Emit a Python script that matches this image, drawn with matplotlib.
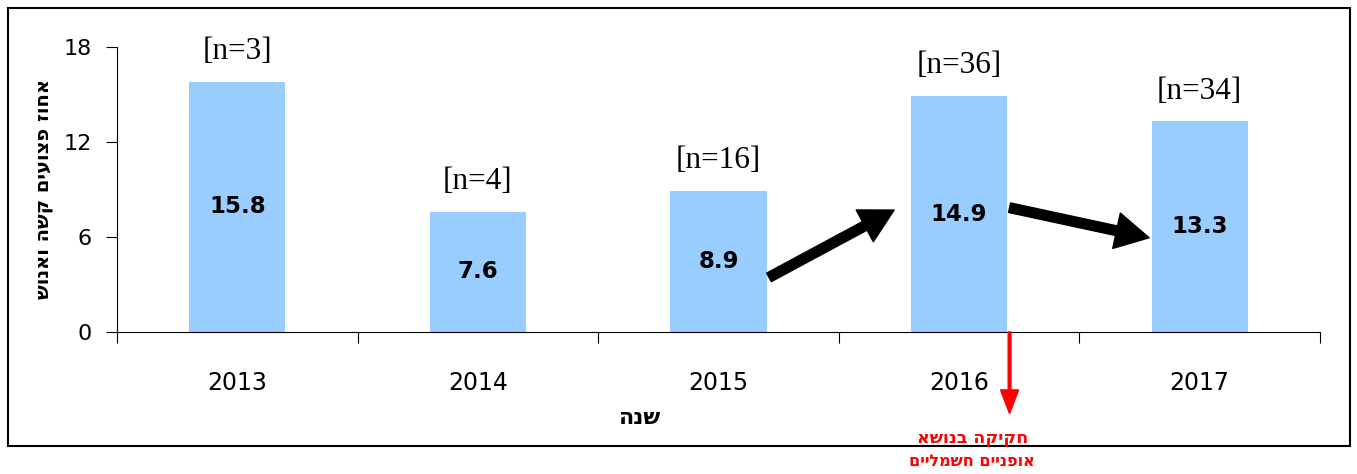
import numpy as np
import matplotlib.pyplot as plt
from matplotlib.patches import Rectangle

# data
years = ['2013', '2014', '2015', '2016', '2017']
pct = [15.8, 7.6, 8.9, 14.9, 13.3]
n_counts = [3, 4, 16, 36, 34]
yticks = [0, 6, 12, 18]

# hebrew strings are stored in visual order (matplotlib has no bidi)
def rtl(s):
    return s[::-1]

ylab = rtl('אחוז פצועים קשה ואנוש')
xlab = rtl('שנה')
note1 = rtl('חקיקה בנושא')
note2 = rtl('אופניים חשמליים')

fig = plt.figure(figsize=(13.57, 4.74), dpi=100)
ax = fig.add_axes([0.0862, 0.2996, 0.8865, 0.6013])

x = np.arange(len(years))
bars = ax.bar(x, pct, width=0.4, color='#99CCFF', zorder=2)

for xi, v, n in zip(x, pct, n_counts):
    ax.text(xi, v / 2, f'{v}', ha='center', va='center', fontsize=16.5,
            fontweight='bold', family='DejaVu Sans', zorder=3)
    ax.text(xi, v + 1.9, f'[n={n}]', ha='center', va='center', fontsize=22.5,
            family='Liberation Serif')

ax.set_xlim(-0.5, 4.5)
ax.set_ylim(0, 18)
ax.set_yticks(yticks)
ax.tick_params(axis='y', direction='out', length=8, labelsize=16, pad=10)

ax.set_xticks(np.arange(-0.5, 5, 1))
ax.set_xticklabels([])
ax.set_xticks(x, minor=True)
ax.set_xticklabels(years, minor=True, fontsize=17)
ax.tick_params(axis='x', which='major', direction='out', length=8)
ax.tick_params(axis='x', which='minor', length=0, pad=28)

for s in ['top', 'right']:
    ax.spines[s].set_visible(False)

ax.set_ylabel(ylab, fontsize=14, fontweight='bold', family='DejaVu Sans',
              labelpad=8)
fig.text(640 / 1357, 1 - 418 / 474, xlab, ha='center', va='center',
         fontsize=16, fontweight='bold', family='DejaVu Sans')

# trend arrows
arrow = dict(width=7, headwidth=26, headlength=24, color='black')
ax.annotate('', xy=(2.73, 7.7), xytext=(2.21, 3.45), arrowprops=arrow)
ax.annotate('', xy=(3.79, 5.95), xytext=(3.21, 7.85), arrowprops=arrow)

# red legislation marker below the axis
red = dict(width=2, headwidth=13, headlength=17, color='red')
ax.annotate('', xy=(3.21, -5.15), xytext=(3.21, 0), arrowprops=red,
            annotation_clip=False)
fig.text(973 / 1357, 1 - 438 / 474, note1, ha='center', va='center',
         color='red', fontsize=12.5, fontweight='bold', family='DejaVu Sans')
fig.text(972 / 1357, 1 - 462 / 474, note2, ha='center', va='center',
         color='red', fontsize=11.5, fontweight='bold', family='DejaVu Sans')

# outer frame
fig.patches.append(Rectangle((0.0059, 0.059), 0.9889, 0.924,
                             transform=fig.transFigure, fill=False,
                             edgecolor='black', lw=1.5, zorder=0))

fig.savefig('out.png', dpi=100)
